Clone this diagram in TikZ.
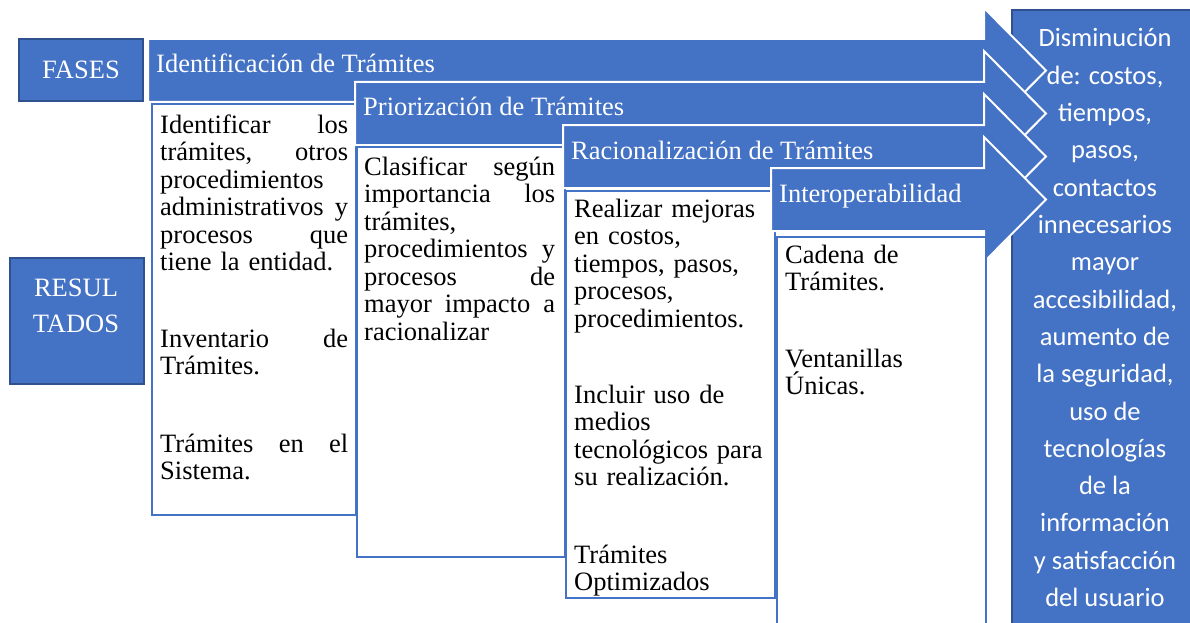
\documentclass[tikz,border=0pt]{standalone}
\usepackage{fontspec}
\setmainfont{Liberation Serif}
\newfontfamily\calibri{Carlito}
\usetikzlibrary{positioning, calc}
\definecolor{azul}{HTML}{4472C4}
\definecolor{azulosc}{HTML}{2F528F}
\tikzset{
    etiq/.style={draw=azulosc, line width=2pt, fill=azul, text=white, inner sep=0pt, anchor=north west},
    fase/.style={fill=azul, draw=white, line width=2pt, line join=miter},
    caja/.style={draw=azul, line width=1.8pt, fill=white, inner sep=0pt, anchor=north west},
    fasetxt/.style={text=white, font=\fontsize{26.5}{27.5}\selectfont, inner sep=0pt, anchor=base west},
    parr/.style={font=\fontsize{26.5}{27.5}\selectfont, text width=#1, align=left, inner sep=0pt, anchor=base west},
    parr/.default={195pt},
    restxt/.style={text=white, font=\calibri\fontsize{26.5}{30}\selectfont, inner sep=0pt, anchor=base}
}
\begin{document}
\begin{tikzpicture}[x=1pt, y=-1pt]
    \useasboundingbox (0,0) rectangle (1190,623);
    \clip (0,0) rectangle (1190,623);
    % columna de resultados
    \node[etiq, minimum width=184pt, minimum height=620pt] (res) at (1011,9) {};
    \foreach \t [count=\k from 0] in {Disminución, {de: costos,}, {tiempos,}, {pasos,}, contactos, innecesarios, mayor, {accesibilidad,}, aumento de, {la seguridad,}, uso de, tecnologías, de la, información, y satisfacción, del usuario}
        \node[restxt] (r\k) at (1105,47+37.3*\k) {\t};
    % etiquetas de la izquierda
    \node[etiq, minimum width=124pt, minimum height=62pt, font=\fontsize{26.5}{27.5}\selectfont] (fases) at (18,38) {FASES};
    \node[etiq, minimum width=134pt, minimum height=126pt] (resul) at (9,257) {};
    \node[fasetxt, anchor=base, align=center, text width=130pt, font=\fontsize{26.5}{36}\selectfont] (resultxt) at (76,296) {RESUL\\TADOS};
    % flechas de fases y cajas
    \foreach \x/\y/\bx/\by/\bw/\bh/\lab [count=\i] in {
        148/39/151/103/204/411/Identificación de Trámites,
        355/82/356/146/208/410/Priorización de Trámites,
        563/125/565/190/209/407/Racionalización de Trámites,
        771/168/776/236/209/400/Interoperabilidad}{
        \draw[fase] (\x,\y) -- (984,\y) -- (984,\y-31) -- (1046,\y+31.5) -- (984,\y+94) -- (984,\y+63) -- (\x,\y+63) -- cycle;
        \node[fasetxt] (f\i) at (\x+8,\y+34) {\lab};
        \node[caja, minimum width=\bw pt, minimum height=\bh pt] (b\i) at (\bx,\by) {};
    }
    % textos de resultados
    \node[parr=188pt] (t1a) at (160,133) {Identificar\hfill los\\ trámites,\hfill otros\\ procedimientos\\ administrativos\hfill y\\ procesos\hfill que\\ tiene la entidad.};
    \node[parr=188pt] (t1b) at (160,347) {Inventario\hfill de\\ Trámites.};
    \node[parr=188pt] (t1c) at (160,452) {Trámites\hfill en\hfill el\\ Sistema.};
    \node[parr=191pt] (t2) at (364,175) {Clasificar\hfill según\\ importancia\hfill los\\ trámites,\\ procedimientos\hfill y\\ procesos\hfill de\\ mayor\hfill impacto\hfill a\\ racionalizar};
    \node[parr] (t3a) at (574,217) {Realizar mejoras\\ en costos,\\ tiempos, pasos,\\ procesos,\\ procedimientos.};
    \node[parr] (t3b) at (574,403) {Incluir uso de\\ medios\\ tecnológicos para\\ su realización.};
    \node[parr] (t3c) at (574,563) {Trámites\\ Optimizados};
    \node[parr] (t4a) at (785,263) {Cadena de\\ Trámites.};
    \node[parr] (t4b) at (785,367) {Ventanillas\\ Únicas.};
\end{tikzpicture}
\end{document}
